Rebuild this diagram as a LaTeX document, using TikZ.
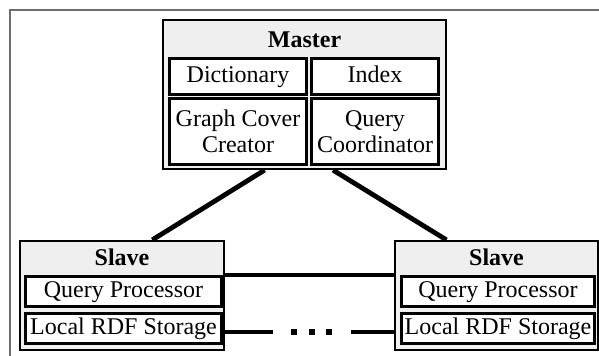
\documentclass[tikz,border=0pt]{standalone}
\usepackage{fontspec}
\setmainfont{Liberation Serif}
\usetikzlibrary{backgrounds,calc}
\definecolor{groupgray}{HTML}{EFEFEF}
\definecolor{framegray}{HTML}{6E6E6E}
\begin{document}
\begin{tikzpicture}[x=0.5pt,y=-0.5pt,
  font=\fontsize{12}{13}\selectfont,
  group/.style={draw=black, line width=1.1pt, fill=groupgray, inner sep=0pt},
  part/.style={draw=black, line width=1.4pt, fill=white, inner sep=0pt, align=center},
  oneline/.style={part, text height=8.2pt, text depth=2.6pt},
  title/.style={font=\fontsize{12}{13}\selectfont\bfseries, inner sep=0pt},
  link/.style={line width=2.4pt},
  dot/.style={fill=black, inner sep=0pt, minimum size=2.6pt},
  frameline/.style={draw=framegray, line width=0.8pt}]
\useasboundingbox (0,0) rectangle (599,356);
\draw[frameline] (599,10) -- (10,10) -- (10,356);

% master node with its four components
\node[group, minimum width=141.5pt, minimum height=74.5pt] (master) at (304.5,94.5) {};
\node[title] (mastertitle) at (304.5,40) {Master};
\node[oneline, minimum width=69pt, minimum height=18.5pt] (dict) at (238,76.5) {Dictionary};
\node[oneline, minimum width=64pt, minimum height=18.5pt] (index) at (375,76.5) {Index};
\node[part, minimum width=69pt, minimum height=33.5pt] (gcc) at (238,131.5) {Graph Cover\\Creator};
\node[part, minimum width=64pt, minimum height=33.5pt] (qc) at (375,131.5) {Query\\Coordinator};

% left slave
\node[group, minimum width=102pt, minimum height=54.5pt] (lslave) at (122,295.5) {};
\node[title] (lslavetitle) at (122,257) {Slave};
\node[oneline, minimum width=98.5pt, minimum height=15.5pt] (lqp) at (123.5,291.5) {Query Processor};
\node[oneline, minimum width=98.5pt, minimum height=15.5pt] (llrs) at (123.5,328.5) {Local RDF Storage};

% right slave
\node[group, minimum width=101.5pt, minimum height=54.5pt] (rslave) at (496.5,295.5) {};
\node[title] (rslavetitle) at (496.5,257) {Slave};
\node[oneline, minimum width=97pt, minimum height=15.5pt] (rqp) at (498,291.5) {Query Processor};
\node[oneline, minimum width=97pt, minimum height=15.5pt] (rlrs) at (498,328.5) {Local RDF Storage};

% thin inner rule of each component box
\foreach \n in {dict,index,gcc,qc,lqp,llrs,rqp,rlrs}
  \draw[line width=0.5pt] ([shift={(3.2,3.2)}]\n.north west) rectangle ([shift={(-3.2,-3.2)}]\n.south east);

% connectors
\coordinate (mL) at ($(master.south west)!0.36!(master.south east)$);
\coordinate (mR) at ($(master.south west)!0.60!(master.south east)$);
\coordinate (sL) at ($(lslave.north west)!0.647!(lslave.north east)$);
\coordinate (sR) at ($(rslave.north west)!0.256!(rslave.north east)$);
\coordinate (gapL) at (273,332);
\coordinate (gapR) at (351,332);
\node[dot] (d1) at (294,332) {};
\node[dot] (d2) at (312,332) {};
\node[dot] (d3) at (329,332) {};
\begin{scope}[on background layer]
  \draw[link] (mL) -- (sL);
  \draw[link] (mR) -- (sR);
  \draw[link] (lslave.east |- 0,275) -- (rslave.west |- 0,275);
  \draw[link] (lslave.east |- 0,332) -- (gapL);
  \draw[link] (gapR) -- (rslave.west |- 0,332);
\end{scope}
\end{tikzpicture}
\end{document}
